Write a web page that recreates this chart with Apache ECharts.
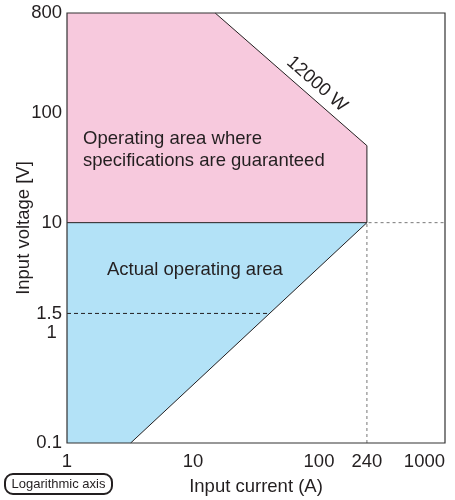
<!DOCTYPE html>
<html>
<head>
<meta charset="utf-8">
<script src="https://cdn.jsdelivr.net/npm/echarts@6/dist/echarts.min.js"></script>
<style>
  html,body{margin:0;padding:0;background:#fff;}
  #main{width:455px;height:500px;}
</style>
</head>
<body>
<div id="main"></div>
<script>
// axis ticks
var currentTicks=[1,10,100,240,1000];
var voltageTicks=[0.1,1,1.5,10,100,800];

// guaranteed area (pink), 12000 W limit
var specCurrent=[1,1,15,240,240];
var specVoltage=[10,800,800,50,10];

// actual operating area (blue)
var actCurrent=[1,1,240,3.2];
var actVoltage=[0.1,10,10,0.1];

// outline pieces
var powerLineI=[15,240,240];
var powerLineV=[800,50,10];
var lowLineI=[1,240,3.2];
var lowLineV=[10,10,0.1];
var halfI=[1,40];
var halfV=[1.5,1.5];
var maxI=[240,240,1000];
var maxV=[0.1,10,10];

function pairs(xs,ys){
  var out=[];
  for(var i=0;i<xs.length;i++){out.push([xs[i],ys[i]]);}
  return out;
}

function polygonSeries(xs,ys,color){
  return {
    type:'custom',
    silent:true,
    data:[[xs[0],ys[0]]],
    renderItem:function(params,api){
      var pts=[];
      for(var i=0;i<xs.length;i++){pts.push(api.coord([xs[i],ys[i]]));}
      return {type:'polygon',shape:{points:pts},style:{fill:color}};
    }
  };
}

function lineSeries(xs,ys,color,type,width){
  return {
    type:'line',
    data:pairs(xs,ys),
    symbol:'none',
    silent:true,
    lineStyle:{color:color,type:type,width:width}
  };
}

var font='"Liberation Sans", Arial, sans-serif';
var textColor='#231f20';
var fs=18.5;

var chart=echarts.init(document.getElementById('main'));
var option={
  animation:false,
  grid:{left:67,top:13,right:10,bottom:57,outerBoundsMode:'none',containLabel:false},
  xAxis:{
    type:'log',
    min:1,max:1000,
    name:'Input current (A)',
    nameLocation:'middle',
    nameGap:34,
    nameTextStyle:{fontFamily:font,fontSize:fs,color:textColor},
    axisLine:{show:false},
    axisTick:{show:false},
    splitLine:{show:false},
    axisLabel:{
      customValues:currentTicks,
      fontFamily:font,fontSize:fs,color:textColor,margin:9,
      alignMaxLabel:'right',
      formatter:function(v){return String(Math.round(v));}
    }
  },
  yAxis:{
    type:'log',
    min:0.1,max:800,
    name:'Input voltage [V]',
    nameLocation:'middle',
    nameGap:34,
    nameMoveOverlap:false,
    nameTextStyle:{fontFamily:font,fontSize:fs,color:textColor},
    axisLine:{show:false},
    axisTick:{show:false},
    splitLine:{show:false},
    axisLabel:{
      customValues:voltageTicks,
      fontFamily:font,fontSize:fs,color:textColor,margin:5,
      formatter:function(v){
        var s=String(Math.round(v*10)/10);
        return s==='1'?'1 ':s;
      }
    }
  },
  graphic:[
    {type:'rect',shape:{x:67,y:13,width:378,height:430},
      style:{fill:null,stroke:'#333',lineWidth:1.2},z:100,silent:true},
    {type:'text',left:83,top:128,z:100,
      style:{text:'Operating area where\nspecifications are guaranteed',font:fs+'px '+font,fill:textColor,lineHeight:22}},
    {type:'text',left:107,top:260,z:100,
      style:{text:'Actual operating area',font:fs+'px '+font,fill:textColor}},
    {type:'text',x:317,y:84,rotation:-0.72,z:100,
      style:{text:'12000 W',font:fs+'px '+font,fill:textColor,align:'center',verticalAlign:'middle'}},
    {type:'rect',shape:{x:5,y:474,width:107,height:20,r:8},
      style:{fill:'#fff',stroke:'#231f20',lineWidth:2},z:100},
    {type:'text',x:58.5,y:484,z:101,
      style:{text:'Logarithmic axis',font:'13px '+font,fill:textColor,align:'center',verticalAlign:'middle'}}
  ],
  series:[
    polygonSeries(specCurrent,specVoltage,'#f7c9dd'),
    polygonSeries(actCurrent,actVoltage,'#b3e2f7'),
    lineSeries(powerLineI,powerLineV,'#231f20','solid',1),
    lineSeries(lowLineI,lowLineV,'#231f20','solid',1),
    lineSeries(halfI,halfV,'#231f20',[4,3],1),
    lineSeries(maxI,maxV,'#777',[3,3],1)
  ]
};
chart.setOption(option);
</script>
</body>
</html>
